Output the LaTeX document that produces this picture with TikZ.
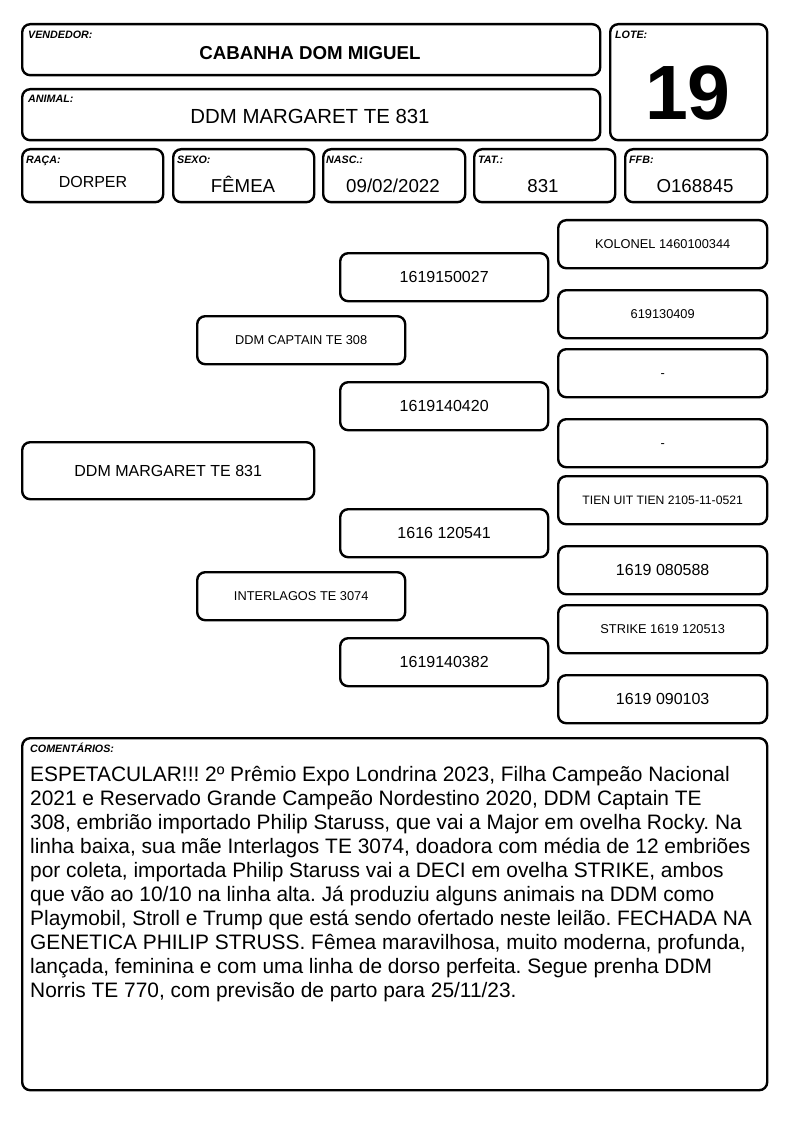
\documentclass[tikz,border=0pt]{standalone}
\usepackage{fontspec}
\setmainfont{Liberation Sans}
\frenchspacing
\begin{document}
\begin{tikzpicture}[x=1pt,y=-1pt,
  box/.style={draw, line width=2.4pt, rounded corners=8pt, inner sep=0pt, anchor=north west},
  lbl/.style={anchor=base west, inner sep=0pt, font=\fontsize{10.7}{12}\selectfont\bfseries\itshape},
  cv/.style={anchor=base, inner sep=0pt, font=\fontsize{#1}{#1}\selectfont, yshift=-0.358*#1},
  cvb/.style={anchor=base, inner sep=0pt, font=\fontsize{#1}{#1}\selectfont\bfseries, yshift=-0.358*#1},
  cl/.style={anchor=base west, inner sep=0pt, font=\fontsize{20.9}{24}\selectfont},
  rb/.style={box, minimum width=209, minimum height=48},
  mb/.style={box, minimum width=208, minimum height=48},
]
\useasboundingbox (0,0) rectangle (794,1123);
% header
\node[box, minimum width=578, minimum height=51] (vend) at (21,23) {};
\node[box, minimum width=578, minimum height=51] (anim) at (21,88) {};
\node[box, minimum width=157, minimum height=116] (lote) at (609,23) {};
\node[lbl] (vendl) at (28,38.8) {VENDEDOR:};
\node[lbl] (animl) at (28,102.8) {ANIMAL:};
\node[lbl] (lotel) at (615,38.8) {LOTE:};
\node[cvb=18.7] (vendv) at (310,53) {CABANHA DOM MIGUEL};
\node[cv=20.4] (animv) at (310,116) {DDM MARGARET TE 831};
\node[cvb=77] (lotev) at (688,92) {19};
% info row
\node[box, minimum width=141, minimum height=53] (raca) at (21,148) {};
\node[box, minimum width=141, minimum height=53] (sexo) at (172,148) {};
\node[box, minimum width=142, minimum height=53] (nasc) at (322,148) {};
\node[box, minimum width=141, minimum height=53] (tat) at (473,148) {};
\node[box, minimum width=142, minimum height=53] (ffb) at (624,148) {};
\node[lbl] (racal) at (26,163.5) {RAÇA:};
\node[lbl] (sexol) at (177,163.5) {SEXO:};
\node[lbl] (nascl) at (326,163.5) {NASC.:};
\node[lbl] (tatl) at (478,163.5) {TAT.:};
\node[lbl] (ffbl) at (629,163.5) {FFB:};
\node[cv=16] (racav) at (93,182) {DORPER};
\node[cv=18.7] (sexov) at (243,186) {FÊMEA};
\node[cv=18.7] (nascv) at (393,186) {09/02/2022};
\node[cv=18.7] (tatv) at (543,186) {831};
\node[cv=18.7] (ffbv) at (695,186) {O168845};
% pedigree
\node[box, minimum width=292, minimum height=57] (an) at (21,441) {};
\node[cv=16] (ant) at (an.center) {DDM MARGARET TE 831};
\node[mb] (s1) at (196,315) {};
\node[cv=12.8] (s1t) at (s1.center) {DDM CAPTAIN TE 308};
\node[mb] (s2) at (196,571) {};
\node[cv=12.8] (s2t) at (s2.center) {INTERLAGOS TE 3074};
\node[mb] (m1) at (339,252) {};
\node[cv=16] (m1t) at (m1.center) {1619150027};
\node[mb] (m2) at (339,381) {};
\node[cv=16] (m2t) at (m2.center) {1619140420};
\node[mb] (m3) at (339,508) {};
\node[cv=16] (m3t) at (m3.center) {1616 120541};
\node[mb] (m4) at (339,637) {};
\node[cv=16] (m4t) at (m4.center) {1619140382};
\node[rb] (k1) at (557,219) {};
\node[cv=12.8] (k1t) at (k1.center) {KOLONEL 1460100344};
\node[rb] (k2) at (557,289) {};
\node[cv=12.8] (k2t) at (k2.center) {619130409};
\node[rb] (k3) at (557,348) {};
\node[cv=12.8] (k3t) at (k3.center) {-};
\node[rb] (k4) at (557,418) {};
\node[cv=12.8] (k4t) at (k4.center) {-};
\node[rb] (k5) at (557,475) {};
\node[cv=12.2] (k5t) at (k5.center) {TIEN UIT TIEN 2105-11-0521};
\node[rb] (k6) at (557,545) {};
\node[cv=16] (k6t) at (k6.center) {1619 080588};
\node[rb] (k7) at (557,604) {};
\node[cv=12.8] (k7t) at (k7.center) {STRIKE 1619 120513};
\node[rb] (k8) at (557,674) {};
\node[cv=16] (k8t) at (k8.center) {1619 090103};
% comments
\node[box, minimum width=745, minimum height=352] (com) at (21,737) {};
\node[lbl] (coml) at (30,752.8) {COMENTÁRIOS:};
\node[cl] (c1) at (30,781.6) {ESPETACULAR!!! 2º Prêmio Expo Londrina 2023, Filha Campeão Nacional};
\node[cl] (c2) at (30,805.6) {2021 e Reservado Grande Campeão Nordestino 2020, DDM Captain TE};
\node[cl] (c3) at (30,829.6) {308, embrião importado Philip Staruss, que vai a Major em ovelha Rocky. Na};
\node[cl] (c4) at (30,853.6) {linha baixa, sua mãe Interlagos TE 3074, doadora com média de 12 embriões};
\node[cl] (c5) at (30,877.6) {por coleta, importada Philip Staruss vai a DECI em ovelha STRIKE, ambos};
\node[cl] (c6) at (30,901.6) {que vão ao 10/10 na linha alta. Já produziu alguns animais na DDM como};
\node[cl] (c7) at (30,925.6) {Playmobil, Stroll e Trump que está sendo ofertado neste leilão. FECHADA NA};
\node[cl] (c8) at (30,949.6) {GENETICA PHILIP STRUSS. Fêmea maravilhosa, muito moderna, profunda,};
\node[cl] (c9) at (30,973.6) {lançada, feminina e com uma linha de dorso perfeita. Segue prenha DDM};
\node[cl] (c10) at (30,997.6) {Norris TE 770, com previsão de parto para 25/11/23.};
\end{tikzpicture}
\end{document}
